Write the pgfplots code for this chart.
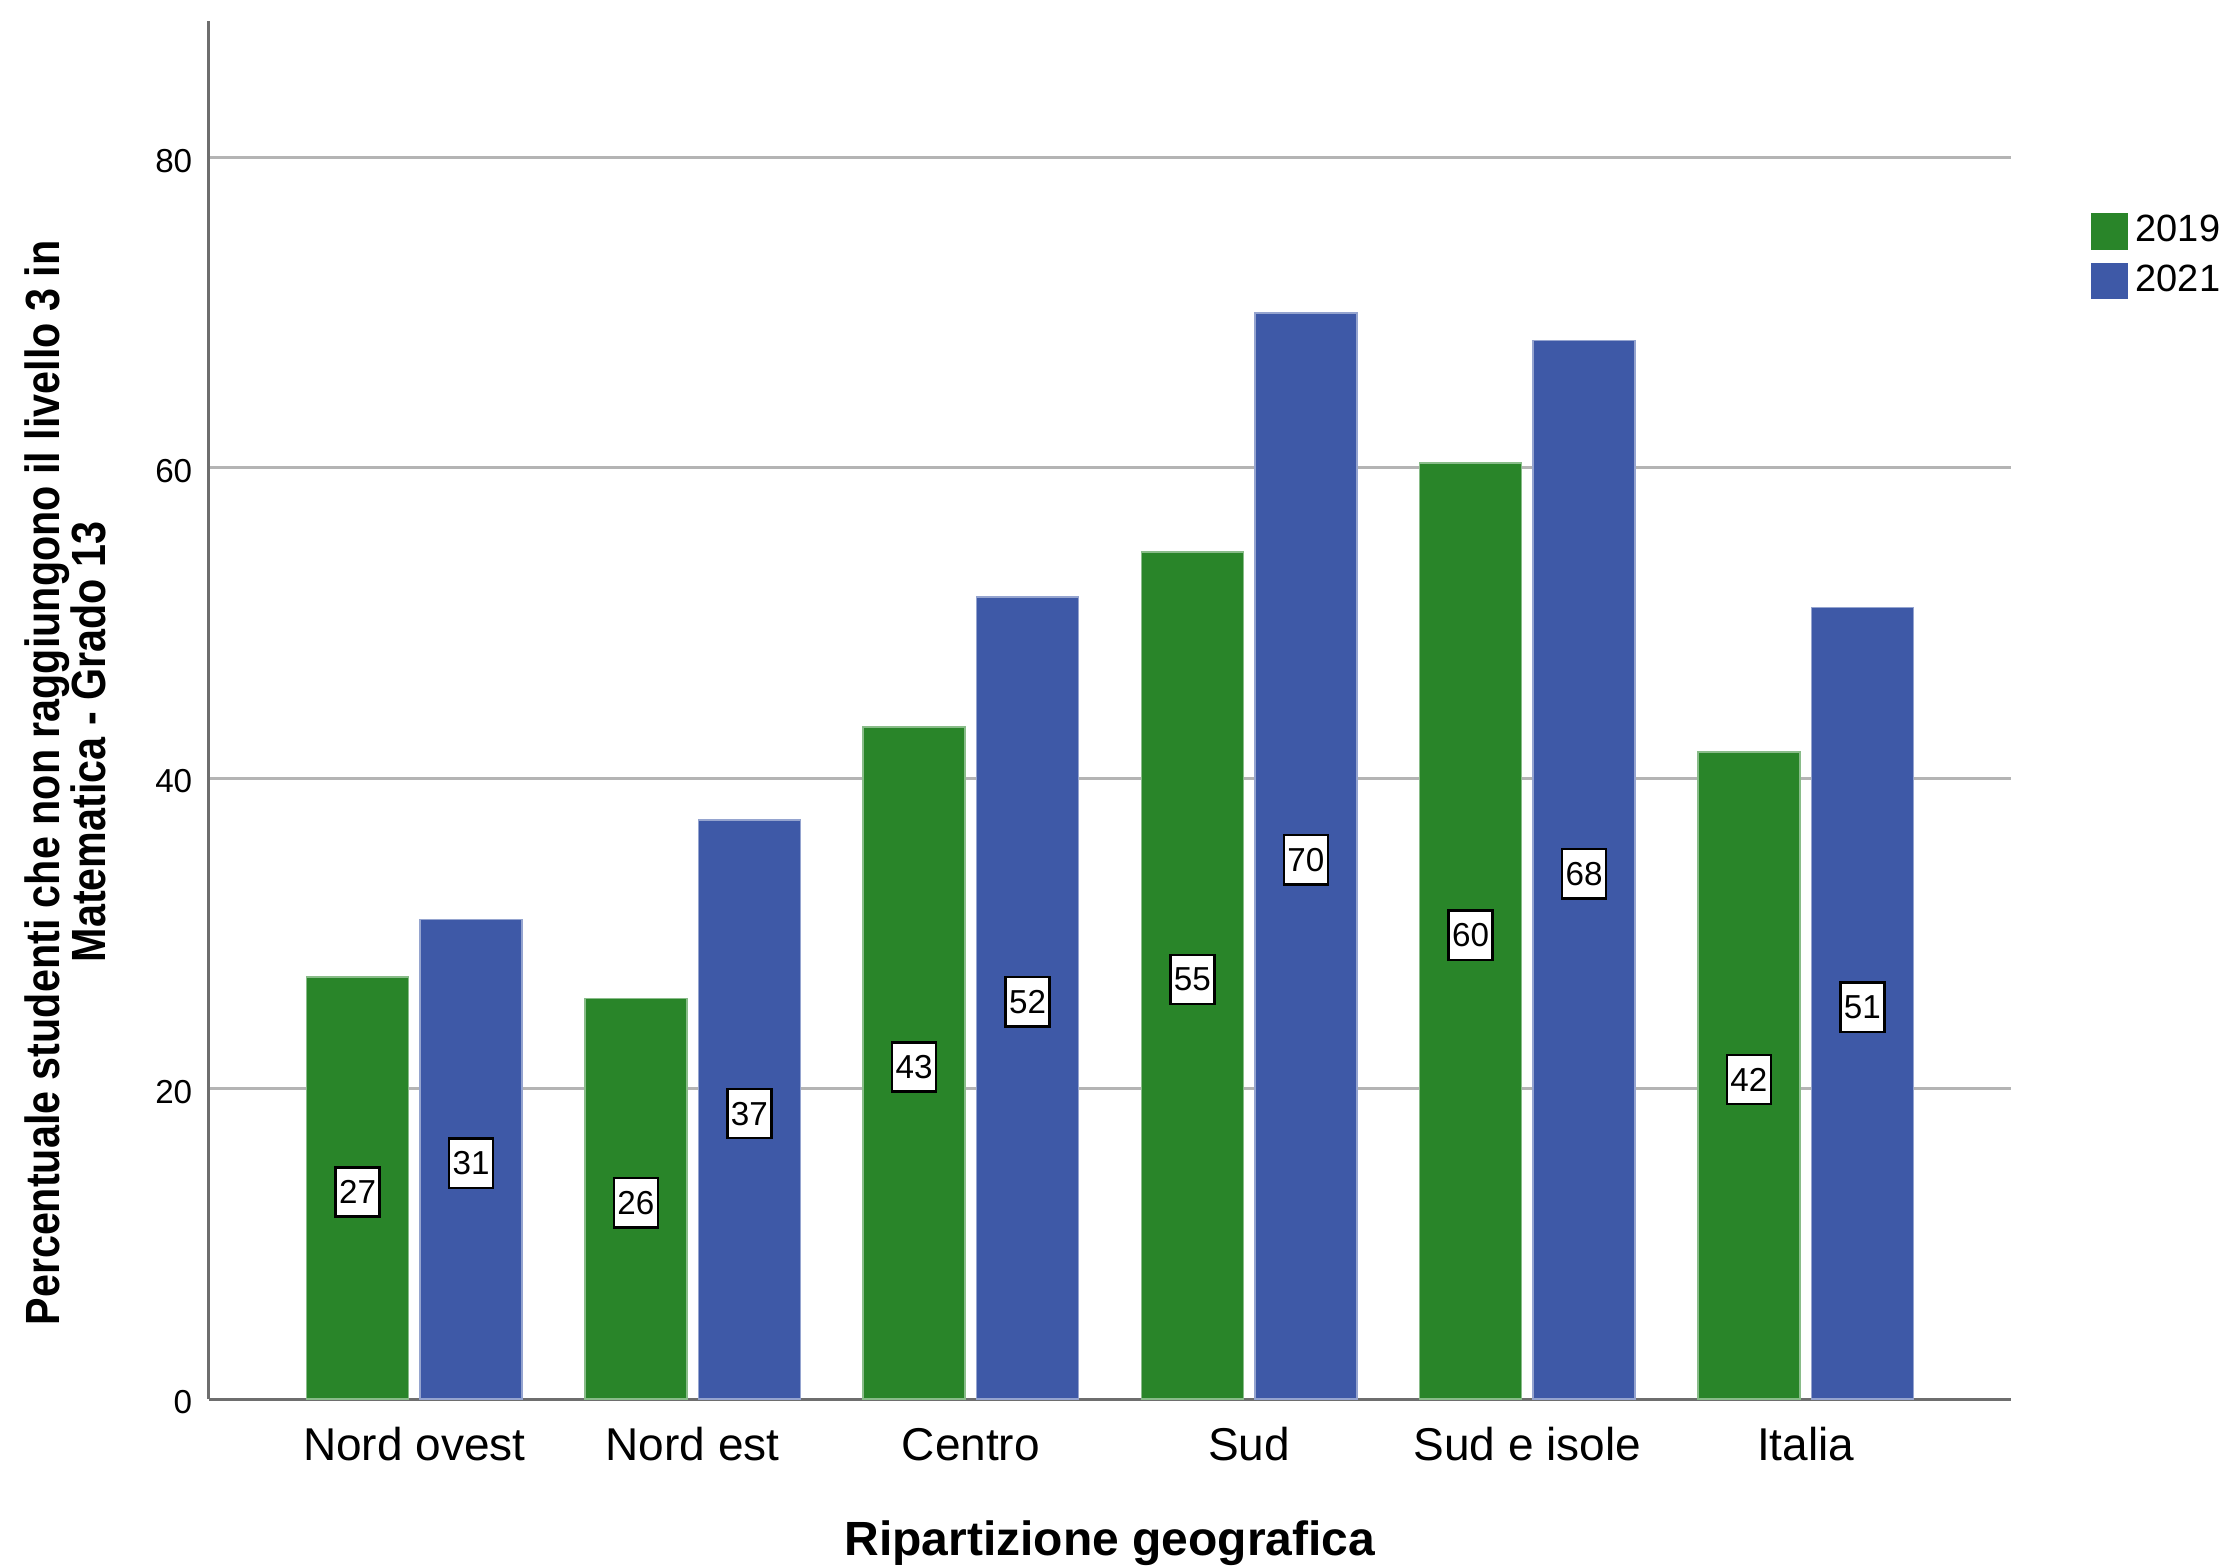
\documentclass[border=0pt]{standalone}
\usepackage{fontspec}
\setmainfont{Liberation Sans}
\usepackage{graphicx}
\usepackage{pgfplots}
\usepackage{pgfplotstable}
\pgfplotsset{compat=1.18}

\definecolor{bargreen}{RGB}{41,133,41}
\definecolor{barblue}{RGB}{62,89,167}
\definecolor{gridgray}{RGB}{180,180,180}
\definecolor{axisgray}{RGB}{110,110,110}

% percentuale per ripartizione: 2019 e 2021
\pgfplotstableread{
x  y2019 y2021
0  27.2  30.9
1  25.8  37.3
2  43.3  51.7
3  54.6  70.0
4  60.3  68.2
5  41.7  51.0
}\data

\begin{document}
\begin{tikzpicture}
\path[use as bounding box] (-52.25pt,-41.75pt) rectangle (503pt,349.75pt);
\begin{axis}[
    scale only axis,
    width=450.5pt, height=344.5pt,
    xmin=-0.738, xmax=5.738,
    ymin=0, ymax=88.8,
    axis x line=bottom, axis y line=left,
    axis line style={-, draw=axisgray, line width=0.75pt},
    major tick length=0pt,
    xtick={0,...,5},
    xticklabels={Nord ovest, Nord est, Centro, Sud, Sud e isole, Italia},
    ytick={0,20,...,80},
    ymajorgrids,
    grid style={gridgray, line width=0.75pt},
    /pgf/number format/assume math mode=true,
    xticklabel style={anchor=base, yshift=-15.25pt, inner sep=0pt,
        font=\fontsize{11.5}{13}\selectfont},
    yticklabel style={anchor=east, inner sep=0pt, xshift=-4pt, yshift=-0.8pt,
        font=\fontsize{8.3}{9}\selectfont},
    xlabel={Ripartizione geografica},
    xlabel style={at={(axis description cs:0.5,0)}, anchor=base, yshift=-39pt,
        inner sep=0pt, font=\bfseries\fontsize{12}{14}\selectfont},
    ylabel={\scalebox{0.86}[1]{Percentuale studenti che non raggiungono il livello 3 in}},
    ylabel style={at={(axis description cs:-0.0832,0.447)}, anchor=base,
        inner sep=0pt, font=\bfseries\fontsize{12}{14}\selectfont},
    legend style={at={(axis description cs:1.0438,0.8614)}, anchor=north west,
        draw=none, fill=none, inner sep=0pt, column sep=2pt, row sep=3.25pt,
        nodes={inner sep=0pt}, cells={anchor=west},
        font=\fontsize{9.5}{11}\selectfont},
    legend image code/.code={\fill[#1, draw=none] (0pt,-4.6pt) rectangle (9.25pt,4.6pt);},
    every node near coord/.style={draw=black, fill=white, text=black,
        line width=0.6pt, inner sep=0pt, minimum width=11pt,
        minimum height=12.3pt, yshift=-1pt, font=\fontsize{8.3}{9}\selectfont},
]
\addplot[ybar, bar width=0.367, bar shift=-0.204, fill=bargreen,
    draw=bargreen!55!white, line width=0.4pt]
    table[x=x, y=y2019] {\data};
\addlegendentry{2019}
\addplot[ybar, bar width=0.367, bar shift=0.204, fill=barblue,
    draw=barblue!55!white, line width=0.4pt]
    table[x=x, y=y2021] {\data};
\addlegendentry{2021}

% etichette a meta' barra
\addplot[forget plot, only marks, mark=none, point meta=explicit,
    nodes near coords={\pgfmathprintnumber[fixed,precision=0]{\pgfplotspointmeta}},
    nodes near coords align=center]
    table[x expr=\thisrow{x}-0.204, y expr=\thisrow{y2019}/2, meta=y2019] {\data};
\addplot[forget plot, only marks, mark=none, point meta=explicit,
    nodes near coords={\pgfmathprintnumber[fixed,precision=0]{\pgfplotspointmeta}},
    nodes near coords align=center]
    table[x expr=\thisrow{x}+0.204, y expr=\thisrow{y2021}/2, meta=y2021] {\data};
\end{axis}
% seconda riga del titolo dell'asse y
\node[rotate=90, anchor=base, inner sep=0pt, font=\bfseries\fontsize{12}{14}\selectfont]
    at (-25.75pt,164.25pt) {\scalebox{0.86}[1]{Matematica - Grado 13}};
\end{tikzpicture}
\end{document}
